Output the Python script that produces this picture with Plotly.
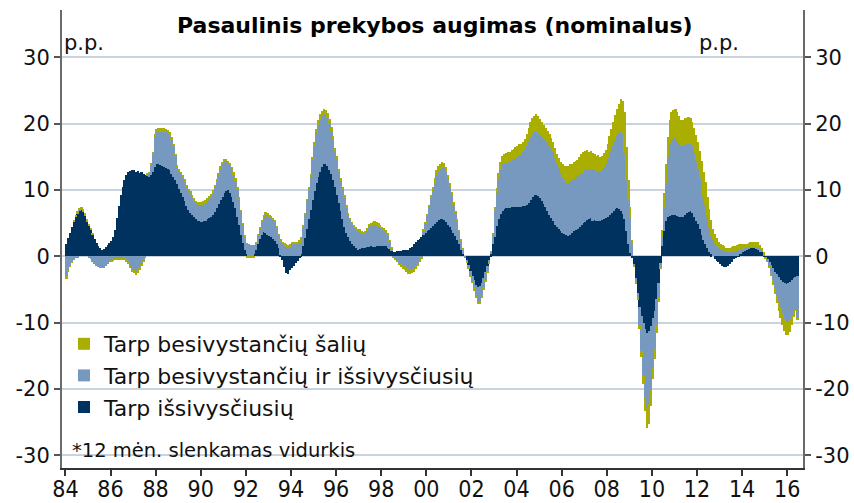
import plotly.graph_objects as go

START_YEAR = 1984

SERIES_NAMES = [
    "Tarp išsivysčiusių",
    "Tarp besivystančių ir išsivysčiusių",
    "Tarp besivystančių šalių",
]
SERIES_COLORS = ["#00325f", "#7899bf", "#a9ae00"]

# monthly values, Jan 1984 - Jun 2016 (p.p.)
DEVELOPED = [
    1.8, 2.8, 3.6, 4.5, 5.3, 6.0, 6.5, 6.9, 7.0, 6.7, 6.1, 5.3,          # 1984
    4.6, 4.0, 3.3, 2.6, 2.0, 1.5, 1.2, 1.0, 1.1, 1.4, 1.7, 2.0,          # 1985
    2.3, 2.9, 4.0, 5.8, 7.6, 9.2, 10.5, 11.5, 12.2, 12.7, 12.9, 13.0,    # 1986
    13.0, 12.7, 12.9, 12.6, 12.8, 12.5, 12.3, 12.2, 12.0, 12.3, 12.8, 13.5,  # 1987
    14.0, 14.0, 13.8, 13.7, 13.5, 13.3, 13.2, 13.0, 12.5, 12.0, 11.5, 10.9,  # 1988
    10.2, 9.6, 9.0, 8.3, 7.6, 7.0, 6.5, 6.2, 5.9, 5.6, 5.4, 5.3,         # 1989
    5.2, 5.3, 5.4, 5.6, 5.8, 6.0, 6.3, 6.7, 7.3, 7.9, 8.5, 9.0,          # 1990
    9.5, 9.9, 10.0, 9.6, 9.0, 8.2, 7.3, 6.0, 4.8, 3.3, 2.0, 1.0,         # 1991
    0.3, 0.0, 0.0, 0.1, 0.4, 0.9, 1.8, 2.6, 3.3, 3.7, 3.6, 3.3,          # 1992
    3.1, 2.9, 2.7, 2.3, 1.8, 1.2, 0.2, -0.6, -1.6, -2.5, -2.7, -2.0,     # 1993
    -1.7, -1.4, -1.0, -0.7, -0.3, 0.3, 1.5, 2.8, 4.2, 5.6, 7.0, 8.5,     # 1994
    9.8, 11.0, 12.0, 12.8, 13.5, 13.9, 14.0, 13.7, 13.1, 12.4, 11.5, 10.5,  # 1995
    9.3, 8.0, 6.8, 5.6, 4.5, 3.6, 2.9, 2.3, 1.8, 1.5, 1.2, 1.0,          # 1996
    1.1, 1.2, 1.3, 1.3, 1.4, 1.4, 1.5, 1.4, 1.4, 1.5, 1.6, 1.6,          # 1997
    1.6, 1.5, 1.5, 1.3, 1.1, 0.8, 0.7, 0.7, 0.8, 0.8, 0.8, 0.9,          # 1998
    0.9, 0.9, 1.0, 1.2, 1.4, 1.8, 2.1, 2.4, 2.7, 3.0, 3.3, 3.6,          # 1999
    3.8, 4.0, 4.3, 4.6, 4.9, 5.2, 5.5, 5.7, 5.7, 5.5, 5.2, 4.8,          # 2000
    4.4, 4.0, 3.6, 3.1, 2.5, 1.9, 1.0, 0.4, 0.0, -0.6, -1.3, -2.2,       # 2001
    -3.0, -3.6, -4.3, -4.6, -4.4, -4.0, -3.3, -2.4, -1.5, -0.6, 0.3, 1.8,  # 2002
    3.0, 4.6, 5.6, 6.4, 6.9, 7.2, 7.3, 7.3, 7.3, 7.4, 7.4, 7.4,          # 2003
    7.5, 7.5, 7.5, 7.6, 7.6, 7.7, 8.0, 8.5, 8.9, 9.2, 9.3, 9.1,          # 2004
    8.8, 8.4, 7.9, 7.4, 6.8, 6.3, 5.8, 5.3, 4.8, 4.4, 4.1, 3.9,          # 2005
    3.6, 3.4, 3.2, 3.1, 3.3, 3.6, 3.8, 4.0, 4.2, 4.5, 4.8, 5.0,          # 2006
    5.2, 5.5, 5.7, 5.8, 5.4, 5.5, 5.3, 5.3, 5.4, 5.5, 5.7, 5.8,          # 2007
    6.0, 6.3, 6.6, 6.9, 7.1, 7.3, 7.2, 6.9, 6.4, 5.6, 3.8, 1.8,          # 2008
    0.5, -0.3, -1.2, -3.3, -5.5, -7.6, -9.0, -10.1, -11.0, -11.6, -11.2, -10.5,  # 2009
    -9.3, -8.3, -6.4, -4.0, -1.0, 1.5, 3.8, 5.3, 5.9, 6.1, 6.2, 6.2,     # 2010
    6.2, 6.1, 6.0, 5.9, 6.0, 6.3, 6.5, 6.7, 6.8, 6.5, 6.0, 5.4,          # 2011
    4.9, 4.2, 3.3, 2.5, 1.8, 1.2, 0.7, 0.3, 0.0, -0.4, -0.7, -0.9,       # 2012
    -1.1, -1.4, -1.6, -1.6, -1.4, -1.1, -0.8, -0.4, -0.1, 0.1, 0.3, 0.4,  # 2013
    0.6, 0.9, 1.1, 1.2, 1.3, 1.3, 1.3, 1.2, 1.1, 0.8, 0.6, 0.2,          # 2014
    -0.1, -0.5, -0.9, -1.3, -1.8, -2.3, -2.7, -3.1, -3.5, -3.8, -4.0, -4.1,  # 2015
    -4.0, -3.8, -3.6, -3.3, -3.1, -2.9,                                  # 2016
]

DEVELOPING_DEVELOPED = [
    -2.9, -2.0, -1.3, -0.8, -0.5, -0.3, -0.1, 0.1, 0.2, 0.2, 0.1, 0.0,   # 1984
    -0.1, -0.4, -0.8, -1.1, -1.4, -1.6, -1.8, -1.8, -1.7, -1.5, -1.2, -0.9,  # 1985
    -0.6, -0.4, -0.3, -0.3, -0.3, -0.3, -0.3, -0.3, -0.5, -0.9, -1.4, -1.9,  # 1986
    -2.0, -2.3, -2.1, -1.7, -1.2, -0.6, -0.1, 0.2, 0.5, 1.5, 2.6, 4.5,   # 1987
    4.7, 4.8, 5.0, 5.1, 5.3, 5.4, 5.4, 5.2, 5.0, 4.6, 3.6, 2.6,          # 1988
    2.7, 2.9, 2.9, 3.0, 2.9, 2.9, 3.0, 2.8, 2.6, 2.5, 2.5, 2.6,          # 1989
    2.7, 2.7, 2.8, 2.9, 3.0, 3.1, 3.4, 3.8, 4.0, 4.4, 4.8, 5.0,          # 1990
    4.9, 4.5, 4.1, 4.2, 4.2, 4.2, 4.2, 4.2, 3.8, 3.5, 2.8, 2.0,          # 1991
    1.7, 1.8, 1.7, 1.6, 1.3, 1.1, 1.3, 1.6, 2.0, 2.3, 2.9, 3.0,          # 1992
    2.9, 2.9, 2.9, 2.9, 2.5, 1.9, 2.1, 1.9, 1.7, 1.5, 1.4, 1.5,          # 1993
    1.9, 1.9, 1.9, 1.9, 2.1, 2.4, 3.0, 3.4, 4.1, 4.4, 4.9, 6.0,          # 1994
    6.9, 7.6, 7.8, 7.8, 7.6, 7.6, 7.3, 7.1, 6.9, 6.5, 6.1, 5.4,          # 1995
    5.4, 4.7, 4.6, 4.5, 4.3, 3.7, 3.4, 3.2, 3.1, 2.9, 3.0, 2.9,          # 1996
    2.7, 2.3, 2.1, 2.2, 2.5, 3.0, 3.1, 3.3, 3.4, 3.2, 2.9, 2.7,          # 1997
    2.4, 2.4, 2.1, 1.9, 1.1, 0.4, -0.1, -0.3, -0.6, -1.0, -1.2, -1.5,    # 1998
    -1.5, -1.8, -2.0, -2.0, -1.9, -1.8, -1.4, -1.0, -0.5, -0.2, 0.6, 1.4,  # 1999
    2.3, 3.4, 4.5, 5.3, 6.2, 7.1, 7.3, 7.5, 7.7, 7.8, 7.6, 6.9,          # 2000
    6.0, 5.2, 4.1, 3.4, 2.7, 1.8, 1.4, 0.6, -0.1, -0.2, -0.4, -0.7,      # 2001
    -0.8, -1.3, -1.7, -2.2, -2.4, -1.8, -1.4, -1.2, -0.7, -0.3, 0.4, 1.5,  # 2002
    4.0, 4.9, 6.0, 6.6, 7.0, 6.9, 6.8, 6.9, 7.0, 7.1, 7.3, 7.5,          # 2003
    7.6, 7.8, 8.0, 8.2, 8.5, 8.9, 9.3, 9.5, 9.6, 9.5, 9.5, 9.4,          # 2004
    9.5, 9.6, 9.8, 10.1, 10.4, 10.5, 10.5, 10.4, 10.1, 9.6, 9.3, 8.7,    # 2005
    8.4, 8.2, 7.9, 7.9, 8.0, 7.9, 7.9, 8.0, 8.0, 7.9, 7.8, 7.8,          # 2006
    7.8, 7.5, 7.4, 7.4, 7.8, 7.5, 7.5, 7.4, 7.4, 7.5, 7.7, 8.2,          # 2007
    8.8, 9.4, 10.0, 10.4, 10.8, 11.0, 11.4, 11.9, 12.0, 9.9, 7.7, 6.7,   # 2008
    5.3, 1.8, -0.2, -0.5, -0.6, -2.7, -5.2, -7.8, -10.3, -11.3, -11.1, -9.6,  # 2009
    -7.3, -5.7, -4.0, -2.1, -0.6, 1.5, 3.7, 5.7, 9.1, 10.9, 11.4, 11.6,  # 2010
    11.6, 11.3, 10.9, 10.7, 10.6, 10.5, 10.4, 10.3, 10.1, 10.1, 9.6, 8.8,  # 2011
    8.2, 7.6, 7.1, 6.5, 5.9, 4.7, 3.7, 2.9, 2.4, 1.8, 1.5, 1.2,          # 2012
    1.0, 0.9, 0.8, 0.7, 0.7, 0.7, 0.7, 0.8, 0.8, 0.8, 0.7, 0.7,          # 2013
    0.5, 0.3, 0.2, 0.1, 0.1, 0.1, 0.1, 0.2, 0.2, 0.1, 0.0, 0.1,          # 2014
    -0.1, -0.2, -0.6, -1.2, -1.8, -2.5, -3.1, -3.7, -4.2, -4.7, -5.4, -5.8,  # 2015
    -5.9, -5.6, -5.2, -5.0, -4.9, -6.4,                                  # 2016
]

DEVELOPING = [
    -0.5, -0.4, -0.3, -0.2, 0.2, 0.3, 0.3, 0.3, 0.3, 0.3, 0.3, 0.3,      # 1984
    0.3, 0.2, 0.1, 0.0, 0.0, 0.0, 0.0, 0.0, 0.0, 0.0, 0.0, 0.0,          # 1985
    -0.1, -0.2, -0.2, -0.2, -0.2, -0.2, -0.2, -0.2, -0.3, -0.3, -0.4, -0.4,  # 1986
    -0.5, -0.5, -0.4, -0.3, -0.2, -0.1, -0.1, 0.1, 0.2, 0.3, 0.4, 0.5,   # 1987
    0.5, 0.5, 0.5, 0.5, 0.5, 0.5, 0.5, 0.5, 0.5, 0.4, 0.4, 0.3,          # 1988
    0.3, 0.3, 0.3, 0.3, 0.3, 0.3, 0.3, 0.3, 0.3, 0.3, 0.3, 0.3,          # 1989
    0.3, 0.3, 0.3, 0.3, 0.3, 0.3, 0.3, 0.3, 0.3, 0.3, 0.3, 0.3,          # 1990
    0.3, 0.3, 0.3, 0.3, 0.3, 0.3, 0.3, 0.3, 0.3, 0.2, 0.2, 0.2,          # 1991
    -0.2, -0.2, -0.2, -0.2, -0.1, 0.2, 0.2, 0.2, 0.2, 0.2, 0.2, 0.2,     # 1992
    0.2, 0.2, 0.2, 0.2, 0.2, 0.2, 0.3, 0.3, 0.3, 0.3, 0.3, 0.3,          # 1993
    0.3, 0.3, 0.3, 0.3, 0.3, 0.3, 0.3, 0.4, 0.4, 0.5, 0.5, 0.5,          # 1994
    0.5, 0.6, 0.7, 0.8, 0.8, 0.8, 0.8, 0.8, 0.7, 0.6, 0.6, 0.5,          # 1995
    0.5, 0.5, 0.4, 0.4, 0.4, 0.4, 0.3, 0.3, 0.3, 0.3, 0.3, 0.3,          # 1996
    0.3, 0.3, 0.3, 0.3, 0.4, 0.5, 0.5, 0.5, 0.5, 0.5, 0.5, 0.4,          # 1997
    0.4, 0.4, 0.4, 0.3, 0.3, 0.2, -0.1, -0.1, -0.2, -0.3, -0.4, -0.4,    # 1998
    -0.5, -0.5, -0.6, -0.6, -0.6, -0.5, -0.5, -0.4, -0.3, -0.2, 0.1, 0.2,  # 1999
    0.3, 0.4, 0.5, 0.6, 0.7, 0.7, 0.8, 0.8, 0.8, 0.8, 0.7, 0.6,          # 2000
    0.6, 0.5, 0.5, 0.4, 0.4, 0.3, 0.2, 0.2, 0.0, -0.1, -0.1, -0.2,       # 2001
    -0.2, -0.3, -0.3, -0.4, -0.4, -0.4, -0.3, -0.3, -0.2, -0.1, 0.1, 0.2,  # 2002
    0.5, 0.8, 1.0, 1.2, 1.3, 1.4, 1.5, 1.5, 1.5, 1.5, 1.5, 1.6,          # 2003
    1.6, 1.6, 1.5, 1.4, 1.6, 1.9, 2.1, 2.3, 2.4, 2.5, 2.7, 2.7,          # 2004
    2.4, 2.3, 2.1, 1.8, 1.7, 1.6, 1.6, 1.5, 1.5, 1.5, 1.5, 1.7,          # 2005
    1.9, 2.1, 2.5, 2.7, 2.6, 2.5, 2.5, 2.4, 2.4, 2.6, 2.8, 2.9,          # 2006
    2.9, 3.0, 2.6, 2.7, 2.4, 2.4, 2.4, 2.6, 2.2, 2.2, 2.2, 2.0,          # 2007
    2.2, 2.5, 2.6, 2.9, 3.4, 4.0, 4.4, 5.0, 5.1, 6.3, 5.0, 3.0,          # 2008
    1.7, 0.7, -0.1, -0.3, -0.4, -0.7, -1.0, -1.4, -2.0, -3.0, -2.9, -2.4,  # 2009
    -1.9, -1.5, -1.1, -0.7, -0.2, 1.0, 2.0, 3.0, 3.0, 3.5, 4.1, 4.3,     # 2010
    4.5, 4.4, 4.2, 4.0, 3.9, 4.0, 4.0, 4.0, 3.9, 3.7, 3.8, 4.1,          # 2011
    4.1, 4.1, 4.0, 3.8, 3.5, 3.1, 2.7, 2.3, 1.8, 1.6, 1.3, 1.0,          # 2012
    0.9, 0.8, 0.7, 0.6, 0.5, 0.6, 0.7, 0.7, 0.8, 0.8, 0.8, 0.7,          # 2013
    0.7, 0.7, 0.6, 0.7, 0.7, 0.8, 0.8, 0.8, 0.8, 0.8, 0.6, 0.3,          # 2014
    -0.05, -0.1, -0.2, -0.4, -0.7, -0.9, -1.2, -1.4, -1.6, -1.8, -1.8, -1.9,  # 2015
    -2.0, -2.0, -1.5, -0.9, -0.3, -0.3,                                  # 2016
]

X_TICK_YEARS = list(range(1984, 2017, 2))
X_TICK_LABELS = ["84", "86", "88", "90", "92", "94", "96", "98", "00",
                 "02", "04", "06", "08", "10", "12", "14", "16"]
Y_TICKS = [-30, -20, -10, 0, 10, 20, 30]
Y_TICK_LABELS = ["-30", "-20", "-10", "0", "10", "20", "30"]

TITLE = "Pasaulinis prekybos augimas (nominalus)"
UNIT = "p.p."
NOTE = "*12 mėn. slenkamas vidurkis"

n = len(DEVELOPED)
months = [START_YEAR + (i + 0.5) / 12 for i in range(n)]

W, H = 854, 503
ML, MR, MT, MB = 62, 51, 10, 35
X_RANGE = [1983.85, 2016.70]
Y_RANGE = [-31.9, 37.15]

FONT = "DejaVu Sans, Verdana, sans-serif"
COND = "DejaVu Sans Condensed, Liberation Sans Narrow, Roboto Condensed, Liberation Sans, sans-serif"

fig = go.Figure()
for name, vals, color in zip(SERIES_NAMES, [DEVELOPED, DEVELOPING_DEVELOPED, DEVELOPING], SERIES_COLORS):
    fig.add_trace(go.Bar(
        x=months, y=vals, width=1.25 / 12, name=name,
        marker=dict(color=color, line=dict(width=0)),
    ))

# invisible helper trace so the right-hand axis is drawn
fig.add_trace(go.Scatter(x=[months[0]], y=[0], yaxis="y2", mode="markers",
                         marker=dict(opacity=0), showlegend=False, hoverinfo="skip"))

pw = W - ML - MR
ph = H - MT - MB

def px_x(px):
    return (px - ML) / pw

def px_y(py):
    return (H - MB - py) / ph

yaxis_common = dict(
    range=Y_RANGE, tickvals=Y_TICKS, ticktext=Y_TICK_LABELS,
    ticks="outside", ticklen=6, tickwidth=1.5, tickcolor="#555555",
    showline=True, linecolor="#6a6a6a", linewidth=2,
    zeroline=False, tickfont=dict(family=FONT, size=21, color="#111111"),
    ticklabelstandoff=0, automargin=False,
)

fig.update_layout(
    width=W, height=H,
    margin=dict(l=ML, r=MR, t=MT, b=MB, autoexpand=False),
    paper_bgcolor="white", plot_bgcolor="white",
    barmode="relative", bargap=0,
    showlegend=True,
    legend=dict(
        x=px_x(64), xanchor="left", y=px_y(323), yanchor="top",
        traceorder="reversed", font=dict(family=FONT, size=22, color="#111111"),
        bgcolor="rgba(0,0,0,0)", itemwidth=30,
    ),
    xaxis=dict(
        range=X_RANGE, tickvals=X_TICK_YEARS, ticktext=X_TICK_LABELS,
        ticks="outside", ticklen=6, tickwidth=1.5, tickcolor="#333333",
        showline=True, linecolor="#333333", linewidth=2,
        showgrid=False, zeroline=False, automargin=False,
        ticklabelstandoff=-7,
        tickfont=dict(family=COND, size=23, color="#111111"),
    ),
    yaxis=dict(**yaxis_common, showgrid=True, gridcolor="#c8d3de", gridwidth=1.5),
    yaxis2=dict(**yaxis_common, overlaying="y", side="right", showgrid=False),
    annotations=[
        dict(text="<b>" + TITLE + "</b>", xref="paper", yref="paper",
             x=px_x(435), y=px_y(25), xanchor="center", yanchor="middle",
             showarrow=False, font=dict(family=FONT, size=22, color="#000000")),
        dict(text=UNIT, xref="paper", yref="paper", x=px_x(62), y=px_y(43),
             xanchor="left", yanchor="middle", showarrow=False,
             font=dict(family=FONT, size=21, color="#111111")),
        dict(text=UNIT, xref="paper", yref="paper", x=px_x(697), y=px_y(43),
             xanchor="left", yanchor="middle", showarrow=False,
             font=dict(family=FONT, size=21, color="#111111")),
        dict(text=NOTE, xref="paper", yref="paper", x=px_x(70), y=px_y(450),
             xanchor="left", yanchor="middle", showarrow=False,
             font=dict(family=FONT, size=19.5, color="#111111")),
    ],
)

fig.write_html(
    "out.html",
    config={"displayModeBar": False},
    post_script="document.body.style.margin='0px';document.body.style.overflow='hidden';",
)
